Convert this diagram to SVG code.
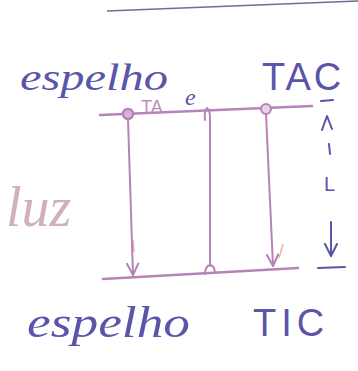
<svg xmlns="http://www.w3.org/2000/svg" width="358" height="371" viewBox="0 0 358 371">
<style>
.hand{font-family:"Liberation Serif",serif;font-style:italic;fill:#5b55aa}
.caps{font-family:"Liberation Sans",sans-serif;fill:#5b55aa}
.mir{stroke:#b583b8;stroke-width:2.5;fill:none;stroke-linecap:round}
.ray{stroke:#b583b8;stroke-width:2;fill:none;stroke-linecap:round}
.dim{stroke:#5b55aa;stroke-width:2;fill:none;stroke-linecap:round;stroke-linejoin:round}
</style>
<defs>
<marker id="ah" viewBox="0 0 14 14" refX="13" refY="7" markerWidth="14" markerHeight="14" markerUnits="userSpaceOnUse" orient="auto">
<path d="M1,1 L13,7 L1,13" stroke="#b583b8" stroke-width="2" fill="none" stroke-linejoin="round"/>
</marker>
</defs>
<rect width="358" height="371" fill="#ffffff"/>
<path d="M107,11 Q220,6 358,1" stroke="#4a4a7a" stroke-width="1.5" fill="none" opacity="0.8"/>

<g id="espelho-top">
<line class="mir" x1="100" y1="115" x2="312" y2="106"/>
<text class="hand" x="20" y="90" font-size="38" textLength="148" lengthAdjust="spacingAndGlyphs">espelho</text>
<text class="caps" x="141" y="113" font-size="18" style="fill:#c08ac0">TA</text>
<text class="hand" x="185" y="105" font-size="24">e</text>
</g>
<g id="tac"><text class="caps" x="262" y="90" font-size="38" letter-spacing="3">TAC</text></g>

<g id="espelho-bottom">
<line class="mir" x1="103" y1="279" x2="298" y2="268"/>
<text class="hand" x="27" y="337" font-size="44" textLength="163" lengthAdjust="spacingAndGlyphs">espelho</text>
</g>
<g id="tic"><text class="caps" x="253" y="336" font-size="38" letter-spacing="5">TIC</text></g>

<g id="luz"><text x="6" y="226" font-family="Liberation Serif,serif" font-style="italic" font-size="56" fill="#c9a3b3" opacity="0.85">luz</text></g>

<g id="connectors">
<circle cx="128" cy="114" r="5" stroke="#b583b8" stroke-width="2.5" fill="#d9b3d9"/>
<circle cx="266" cy="109" r="5" stroke="#b583b8" stroke-width="2" fill="#e8d0e8"/>
<path class="ray" d="M128,119 L133,275" marker-end="url(#ah)"/>
<path class="ray" d="M205,120 Q204,110 207,108 Q210,110 210,118 L210,266"/>
<path class="ray" d="M205,274 Q205,266 210,265 Q215,266 215,273"/>
<path class="ray" d="M266,114 L273,266" marker-end="url(#ah)"/>
<path d="M133,240 L134,252" stroke="#e89090" stroke-width="1.5" opacity="0.7"/>
<path d="M283,244 L279,258" stroke="#e89090" stroke-width="1.5" opacity="0.7"/>
</g>

<g id="dimension-L">
<path class="dim" d="M321,101 L333,100"/>
<path class="dim" d="M322,130 L327,116 L332,129"/>
<path class="dim" d="M329,144 L330,154"/>
<text class="caps" x="324" y="191" font-size="20">L</text>
<path class="dim" d="M331,222 L331,256"/>
<path class="dim" d="M325,244 L331,256 L337,244"/>
<path class="dim" d="M318,268 L345,267"/>
</g>
</svg>
